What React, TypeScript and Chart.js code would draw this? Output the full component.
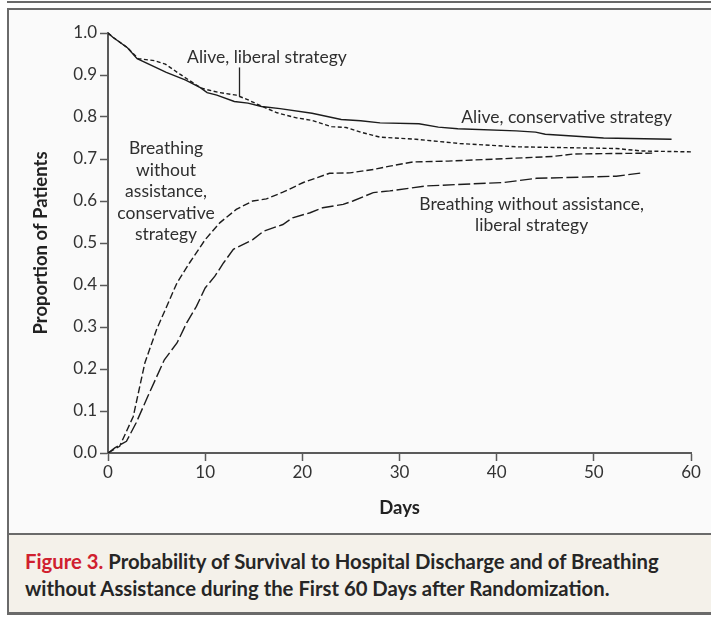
import React, { useEffect, useRef } from "react";
import { Chart, registerables } from "chart.js";

Chart.register(...registerables);

// ---- Data ----
const aliveConservativeDays = [0, 0.5, 2, 3, 6, 8, 9.5, 10.2, 11.2, 13, 14.4, 15.8, 17.7, 21, 24, 26, 28, 32, 34, 36, 42, 44, 45, 49, 51, 58];
const aliveConservative = [1.0, 0.99, 0.965, 0.939, 0.906, 0.888, 0.87, 0.858, 0.852, 0.837, 0.833, 0.825, 0.82, 0.809, 0.794, 0.791, 0.786, 0.784, 0.776, 0.772, 0.767, 0.764, 0.759, 0.753, 0.75, 0.747];

const aliveLiberalDays = [0, 0.5, 2, 3.1, 4.8, 5.9, 7.4, 9.5, 10, 11.5, 13.2, 14.3, 15.6, 17.4, 19.4, 21, 23, 24.5, 26, 27.3, 28, 31.7, 36.2, 42, 47.2, 52.3, 55, 60];
const aliveLiberal = [1.0, 0.99, 0.965, 0.939, 0.934, 0.926, 0.902, 0.87, 0.866, 0.858, 0.852, 0.842, 0.828, 0.81, 0.798, 0.792, 0.777, 0.775, 0.764, 0.756, 0.752, 0.747, 0.737, 0.729, 0.727, 0.725, 0.719, 0.717];

const breathingConservativeDays = [0, 1.2, 2.6, 3.8, 5, 7.1, 8.4, 10, 11.5, 13.2, 14.9, 16.3, 18, 20.1, 22.8, 24.9, 27.3, 29, 31.4, 35, 40, 45.8, 47.9, 56];
const breathingConservative = [0, 0.016, 0.087, 0.215, 0.294, 0.405, 0.453, 0.508, 0.548, 0.58, 0.6, 0.605, 0.621, 0.644, 0.666, 0.667, 0.675, 0.683, 0.693, 0.695, 0.7, 0.706, 0.712, 0.714];

const breathingLiberalDays = [0, 0.7, 1.9, 2.9, 4.1, 5.8, 7.1, 8.1, 9.1, 10, 11, 11.9, 12.9, 14.9, 16, 18, 19, 20.8, 22.1, 24.2, 25.2, 27.3, 29, 32.8, 40.7, 44.1, 52.3, 55];
const breathingLiberal = [0, 0.012, 0.028, 0.072, 0.135, 0.222, 0.262, 0.31, 0.349, 0.393, 0.421, 0.453, 0.485, 0.508, 0.528, 0.544, 0.56, 0.572, 0.584, 0.592, 0.6, 0.62, 0.624, 0.636, 0.644, 0.654, 0.659, 0.667];

const seriesNames = [
  "Alive, conservative strategy",
  "Alive, liberal strategy",
  "Breathing without assistance, conservative strategy",
  "Breathing without assistance, liberal strategy",
];

const xTitle = "Days";
const yTitle = "Proportion of Patients";

const captionLead = "Figure 3.";
const captionLine1 = " Probability of Survival to Hospital Discharge and of Breathing";
const captionLine2 = "without Assistance during the First 60 Days after Randomization.";

// annotation labels (text lines)
const labelAliveLiberal = ["Alive, liberal strategy"];
const labelAliveConservative = ["Alive, conservative strategy"];
const labelBreathConservative = ["Breathing", "without", "assistance,", "conservative", "strategy"];
const labelBreathLiberal = ["Breathing without assistance,", "liberal strategy"];

// annotation placement in data units (x = day, y = proportion)
const annotations = [
  { lines: labelAliveLiberal, x: 16.36, y: 0.943, step: 0.051 },
  { lines: labelAliveConservative, x: 47.2, y: 0.8, step: 0.051 },
  { lines: labelBreathConservative, x: 5.97, y: 0.725, step: 0.0513 },
  { lines: labelBreathLiberal, x: 43.6, y: 0.592, step: 0.049 },
];
const leader = { x: 13.5, y1: 0.918, y2: 0.849 };

const FONT = "Lato, 'Noto Sans', sans-serif";

const pts = (xs: number[], ys: number[]) => xs.map((x, i) => ({ x, y: ys[i] }));

const annotationPlugin = {
  id: "annot",
  afterDatasetsDraw(chart: any) {
    const { ctx, scales } = chart;
    const xs = scales.x;
    const ys = scales.y;
    ctx.save();
    ctx.fillStyle = "#2f2f2f";
    ctx.font = `17.5px ${FONT}`;
    ctx.textAlign = "center";
    ctx.textBaseline = "middle";
    annotations.forEach((a) => {
      a.lines.forEach((t, i) => {
        ctx.fillText(t, xs.getPixelForValue(a.x), ys.getPixelForValue(a.y - i * a.step));
      });
    });
    ctx.strokeStyle = "#222";
    ctx.lineWidth = 1.3;
    ctx.beginPath();
    const lx = Math.round(xs.getPixelForValue(leader.x)) + 0.5;
    ctx.moveTo(lx, ys.getPixelForValue(leader.y1));
    ctx.lineTo(lx, ys.getPixelForValue(leader.y2));
    ctx.stroke();
    ctx.restore();
  },
};

export default function App() {
  const ref = useRef<HTMLCanvasElement | null>(null);

  useEffect(() => {
    if (!ref.current) return;
    const lineCommon = {
      borderColor: "#1c1c1c",
      borderWidth: 1.4,
      pointRadius: 0,
      tension: 0,
      fill: false,
    };
    const chart = new Chart(ref.current, {
      type: "line",
      data: {
        datasets: [
          { ...lineCommon, label: seriesNames[0], data: pts(aliveConservativeDays, aliveConservative) },
          { ...lineCommon, label: seriesNames[1], data: pts(aliveLiberalDays, aliveLiberal), borderDash: [4, 2.5] },
          { ...lineCommon, label: seriesNames[2], data: pts(breathingConservativeDays, breathingConservative), borderDash: [7, 3] },
          { ...lineCommon, label: seriesNames[3], data: pts(breathingLiberalDays, breathingLiberal), borderDash: [12, 3.5] },
        ],
      },
      options: {
        animation: false,
        responsive: false,
        devicePixelRatio: 1,
        layout: { padding: { top: 33, right: 20, left: 0, bottom: 0 } },
        plugins: {
          legend: { display: false },
          tooltip: { enabled: false },
        },
        scales: {
          x: {
            type: "linear",
            min: 0,
            max: 60,
            afterFit: (s: any) => {
              s.height = 81;
            },
            ticks: {
              stepSize: 10,
              color: "#333",
              font: { family: FONT, size: 17 },
              padding: 1,
              maxRotation: 0,
            },
            grid: { drawOnChartArea: false, drawTicks: true, tickLength: 8, color: "#5a5a5a", tickWidth: 1.5 },
            border: { display: true, color: "#5a5a5a", width: 2 },
            title: {
              display: true,
              text: xTitle,
              color: "#222",
              font: { family: FONT, size: 18.5, weight: "bold" },
              padding: { top: 0, bottom: 15 },
            },
          },
          y: {
            type: "linear",
            min: 0,
            max: 1,
            afterFit: (s: any) => {
              s.width = 108;
            },
            ticks: {
              stepSize: 0.1,
              color: "#333",
              font: { family: FONT, size: 17 },
              padding: 3,
              callback: (v: any) => Number(v).toFixed(1),
            },
            grid: { drawOnChartArea: false, drawTicks: true, tickLength: 8, color: "#5a5a5a", tickWidth: 1.5 },
            border: { display: true, color: "#5a5a5a", width: 2 },
            title: {
              display: true,
              text: yTitle,
              color: "#222",
              font: { family: FONT, size: 18.5, weight: "bold" },
              padding: { top: 30, bottom: 0 },
            },
          },
        },
      },
      plugins: [annotationPlugin],
    } as any);
    return () => chart.destroy();
  }, []);

  const border = "#6a6a6a";
  return (
    <div style={{ position: "absolute", left: 0, top: 0, width: 711, height: 619, background: "#fff", overflow: "hidden" }}>
      <div style={{ position: "absolute", left: 7, top: 1, width: 720, height: 2, background: border }} />
      <div
        style={{
          position: "absolute",
          left: 7,
          top: 8,
          width: 720,
          height: 607,
          borderLeft: `2px solid ${border}`,
          borderTop: `2px solid ${border}`,
          borderBottom: `3px solid ${border}`,
          background: "#fafafa",
          boxSizing: "border-box",
        }}
      />
      <div style={{ position: "absolute", left: 9, top: 533, width: 720, height: 2, background: border }} />
      <div style={{ position: "absolute", left: 9, top: 535, width: 720, height: 77, background: "#f4f1ea" }} />
      <div
        style={{
          position: "absolute",
          left: 25,
          top: 548,
          width: 690,
          whiteSpace: "nowrap",
          fontFamily: FONT,
          fontWeight: 700,
          fontSize: 20.3,
          lineHeight: "27px",
          color: "#262626",
        }}
      >
        <span style={{ color: "#d0202f" }}>{captionLead}</span>
        {captionLine1}
        <br />
        {captionLine2}
      </div>
      <canvas ref={ref} width={711} height={534} style={{ position: "absolute", left: 0, top: 0 }} />
    </div>
  );
}
